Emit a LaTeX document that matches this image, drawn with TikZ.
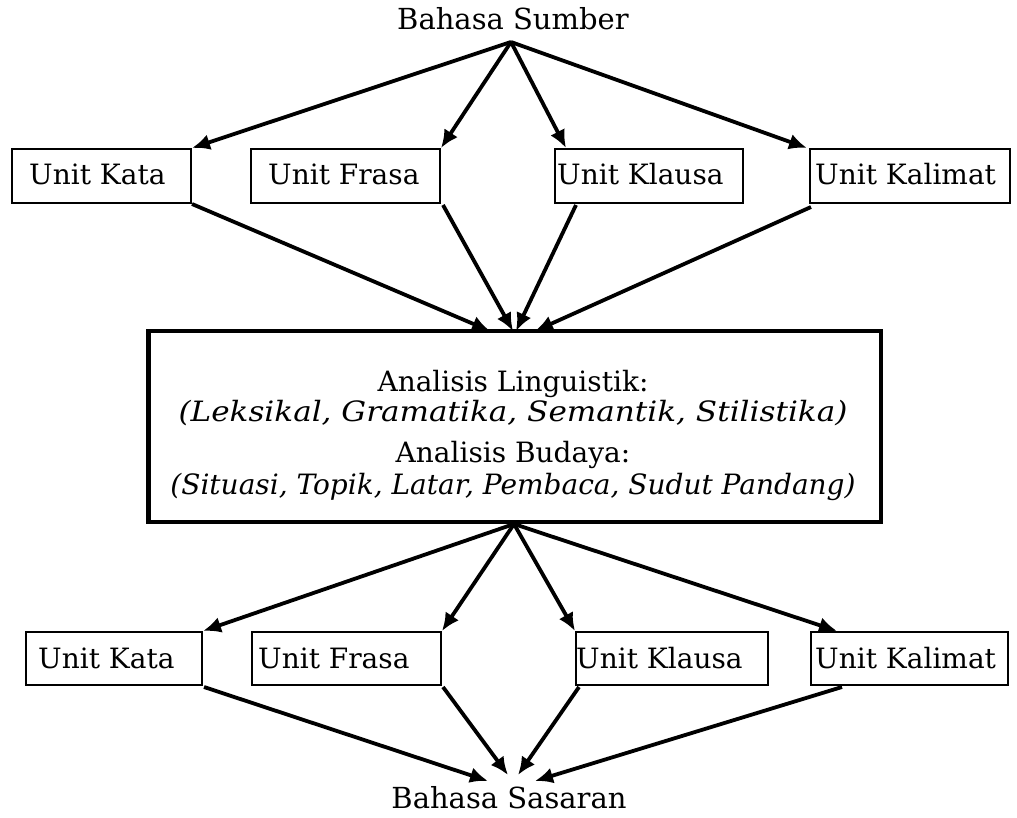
\documentclass[tikz,border=0pt]{standalone}
\usepackage{fontspec}
\setmainfont{DejaVu Serif}
\usetikzlibrary{arrows.meta,fit,calc}

\begin{document}
\begin{tikzpicture}[x=1pt,y=-1pt,
  unitbox/.style={draw,line width=2pt,inner sep=0pt},
  bigbox/.style={draw,line width=4.5pt,inner sep=0pt},
  label/.style={inner sep=0pt,font=\fontsize{28}{34}\selectfont},
  endlabel/.style={inner sep=0pt,font=\fontsize{29}{34}\selectfont},
  itlabel/.style={inner sep=0pt,font=\fontsize{28}{32}\selectfont\itshape},
  flow/.style={line width=3.8pt,-{Latex[length=18pt,width=16pt]}}]

\useasboundingbox (0,0) rectangle (1017,818);

% source and target language
\node[endlabel,anchor=base] (src) at (513,30) {Bahasa Sumber};
\node[endlabel,anchor=base] (tgt) at (509,808) {Bahasa Sasaran};
\coordinate (srcpt) at (511,42);

% upper row of units
\node[unitbox,fit={(12,149)(191,203)}] (ka) {};
\node[unitbox,fit={(251,149)(440,203)}] (fa) {};
\node[unitbox,fit={(555,149)(743,203)}] (kla) {};
\node[unitbox,fit={(810,149)(1010,203)}] (kal) {};
\node[label,anchor=base west] (kat) at (29,185) {Unit Kata};
\node[label,anchor=base west] (fat) at (268,185) {Unit Frasa};
\node[label,anchor=base west] (klat) at (557,185) {Unit Klausa};
\node[label,anchor=base west] (kalt) at (815,185) {Unit Kalimat};

% analysis box
\node[bigbox,fit={(148.5,331)(881,522)}] (mid) {};
\node[label,anchor=base] (ling) at (513,391) {Analisis Linguistik:};
\node[itlabel,anchor=base] (lingd) at (513,421) {\scalebox{1.11}[1]{(Leksikal, Gramatika, Semantik, Stilistika)}};
\node[label,anchor=base] (bud) at (513,462) {Analisis Budaya:};
\node[itlabel,anchor=base] (budd) at (513,494) {(Situasi, Topik, Latar, Pembaca, Sudut Pandang)};
\coordinate (midpt) at (514,524);

% lower row of units
\node[unitbox,fit={(26,632)(202,685)}] (kb) {};
\node[unitbox,fit={(252,632)(441,685)}] (fb) {};
\node[unitbox,fit={(576,632)(768,685)}] (klb) {};
\node[unitbox,fit={(811,632)(1008,685)}] (kalb) {};
\node[label,anchor=base west] (kbt) at (38,668) {Unit Kata};
\node[label,anchor=base west] (fbt) at (258,668) {Unit Frasa};
\node[label,anchor=base west] (klbt) at (576,668) {Unit Klausa};
\node[label,anchor=base west] (kalbt) at (815,668) {Unit Kalimat};

% arrow ends on the analysis box and the target label
\coordinate (m1) at (490,331);
\coordinate (m2) at (513,331);
\coordinate (m3) at (516,331);
\coordinate (m4) at (535,331);
\coordinate (t1) at (488,781);
\coordinate (t2) at (508,775);
\coordinate (t3) at (518,775);
\coordinate (t4) at (535,781);

% source language to upper units
\draw[flow] (srcpt) -- (ka.north east);
\draw[flow] (srcpt) -- (fa.north east);
\draw[flow] (srcpt) -- ($(kla.north west)+(12,0)$);
\draw[flow] (srcpt) -- ($(kal.north west)+(-2,0)$);

% upper units to analysis
\draw[flow] (ka.south east) -- (m1);
\draw[flow] ($(fa.south east)+(2,1)$) -- (m2);
\draw[flow] ($(kla.south west)+(22,1)$) -- (m3);
\draw[flow] ($(kal.south west)+(2,3)$) -- (m4);

% analysis to lower units
\draw[flow] (midpt) -- (kb.north east);
\draw[flow] (midpt) -- (fb.north east);
\draw[flow] (midpt) -- (klb.north west);
\draw[flow] (midpt) -- ($(kalb.north west)+(27,0)$);

% lower units to target language
\draw[flow] ($(kb.south east)+(1,1)$) -- (t1);
\draw[flow] ($(fb.south east)+(1,1)$) -- (t2);
\draw[flow] ($(klb.south west)+(4,1)$) -- (t3);
\draw[flow] ($(kalb.south west)+(32,1)$) -- (t4);
\end{tikzpicture}
\end{document}
